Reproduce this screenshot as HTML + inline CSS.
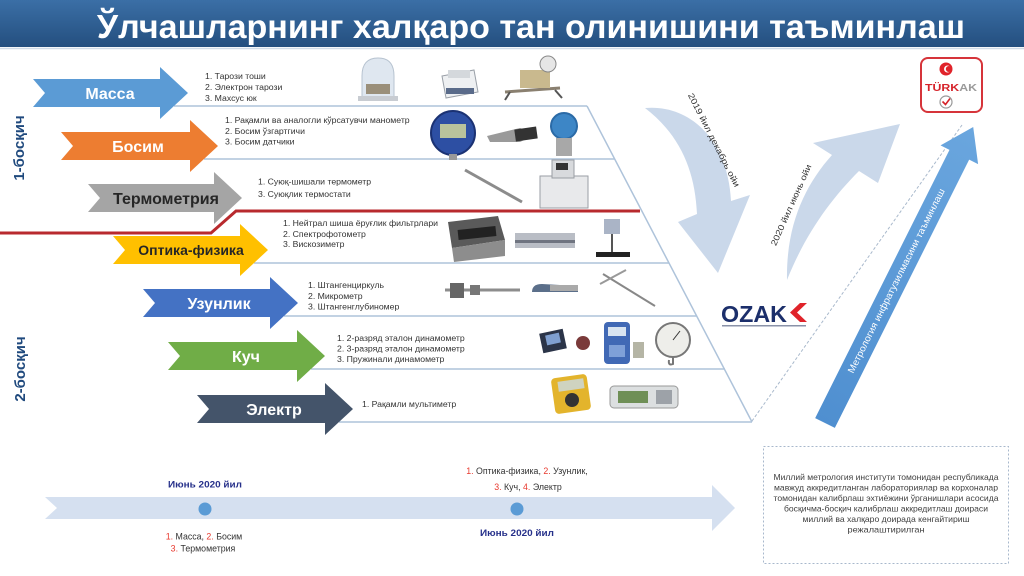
<!DOCTYPE html>
<html><head><meta charset="utf-8">
<style>
html,body{margin:0;padding:0;background:#fff;}
svg{display:block;}
text{font-family:"Liberation Sans","DejaVu Sans",sans-serif;}
</style></head>
<body>
<svg width="1024" height="576" viewBox="0 0 1024 576" xmlns="http://www.w3.org/2000/svg">
<defs>
<linearGradient id="tb" x1="0" y1="0" x2="0" y2="1">
<stop offset="0" stop-color="#3b6fa6"/><stop offset="1" stop-color="#244f7f"/>
</linearGradient>
<linearGradient id="ba" x1="0" y1="0" x2="1" y2="0">
<stop offset="0" stop-color="#4f8fd0"/><stop offset="1" stop-color="#6aa6de"/>
</linearGradient>
</defs>
<rect width="1024" height="576" fill="#fff"/>

<!-- Title -->
<rect x="0" y="0" width="1024" height="47" fill="url(#tb)"/>
<line x1="0" y1="48.5" x2="1024" y2="48.5" stroke="#cfdbe8" stroke-width="1.5"/>
<text x="97" y="38" font-size="33" font-weight="bold" fill="#fff" textLength="868" lengthAdjust="spacingAndGlyphs">Ўлчашларнинг халқаро тан олинишини таъминлаш</text>

<!-- stage labels -->
<text transform="translate(24,148) rotate(-90)" text-anchor="middle" font-size="15" font-weight="bold" fill="#1f497d">1-босқич</text>
<text transform="translate(25,369) rotate(-90)" text-anchor="middle" font-size="15" font-weight="bold" fill="#1f497d">2-босқич</text>

<!-- row lines -->
<g stroke="#aec3da" stroke-width="1.5" fill="none">
<line x1="174" y1="106" x2="587" y2="106"/>
<line x1="204" y1="159" x2="615" y2="159"/>
<line x1="254" y1="263" x2="669" y2="263"/>
<line x1="284" y1="316" x2="697" y2="316"/>
<line x1="311" y1="369" x2="725" y2="369"/>
<line x1="339" y1="422" x2="752" y2="422"/>
<line x1="587" y1="106" x2="752" y2="422"/>
</g>
<line x1="752" y1="421" x2="962" y2="125" stroke="#a9b9cc" stroke-width="1" stroke-dasharray="3 2"/>
<!-- red separator -->
<polyline points="0,233 211,233 236,211 640,211" fill="none" stroke="#b82a2e" stroke-width="3"/>

<!-- arrows -->
<polygon points="33,79 160,79 160,67 188,93 160,119 160,107 33,107 45,93" fill="#5b9bd5"/>
<polygon points="61,132 190,132 190,120 218,146 190,172 190,160 61,160 73,146" fill="#ed7d31"/>
<polygon points="88,184 214,184 214,172 242,198 214,224 214,212 88,212 100,198" fill="#a5a5a5"/>
<polygon points="113,236 240,236 240,224 268,250 240,276 240,264 113,264 125,250" fill="#ffc000"/>
<polygon points="143,289 270,289 270,277 298,303 270,329 270,317 143,317 155,303" fill="#4472c4"/>
<polygon points="168,342 297,342 297,330 325,356 297,382 297,370 168,370 180,356" fill="#70ad47"/>
<polygon points="197,395 325,395 325,383 353,409 325,435 325,423 197,423 209,409" fill="#44546a"/>

<g font-weight="bold" text-anchor="middle">
<text x="110" y="99" font-size="16" fill="#fff">Масса</text>
<text x="138" y="152" font-size="16" fill="#fff">Босим</text>
<text x="166" y="204" font-size="16" fill="#262626">Термометрия</text>
<text x="191" y="255" font-size="14" fill="#262626">Оптика-физика</text>
<text x="219" y="309" font-size="16" fill="#fff">Узунлик</text>
<text x="246" y="362" font-size="16" fill="#fff">Куч</text>
<text x="274" y="415" font-size="16" fill="#fff">Электр</text>
</g>

<!-- lists -->
<g font-size="8.7" fill="#333">
<text x="205" y="79">1. Тарози тоши</text>
<text x="205" y="90">2. Электрон тарози</text>
<text x="205" y="101">3. Махсус юк</text>
<text x="225" y="123">1. Рақамли ва аналогли кўрсатувчи манометр</text>
<text x="225" y="134">2. Босим ўзгартгичи</text>
<text x="225" y="144.5">3. Босим датчики</text>
<text x="258" y="184.5">1. Суюқ-шишали термометр</text>
<text x="258" y="197">3. Суюқлик термостати</text>
<text x="283" y="226">1. Нейтрал шиша ёруғлик фильтрлари</text>
<text x="283" y="237">2. Спектрофотометр</text>
<text x="283" y="247">3. Вискозиметр</text>
<text x="308" y="288">1. Штангенциркуль</text>
<text x="308" y="299">2. Микрометр</text>
<text x="308" y="309.5">3. Штангенглубиномер</text>
<text x="337" y="341">1. 2-разряд эталон динамометр</text>
<text x="337" y="351.5">2. 3-разряд эталон динамометр</text>
<text x="337" y="362">3. Пружинали динамометр</text>
<text x="362" y="407">1. Рақамли мультиметр</text>
</g>

<!-- equipment row1 -->
<path d="M362,98 L362,76 Q362,58 378,58 Q394,58 394,76 L394,98 Z" fill="#dfe7f0" stroke="#b7c3d0"/>
<rect x="366" y="84" width="24" height="10" fill="#9a8f7a"/>
<rect x="358" y="96" width="40" height="5" fill="#c8ccd2"/>
<polygon points="442,76 474,70 478,92 446,98" fill="#eef0f2" stroke="#9aa0a8"/>
<rect x="446" y="88" width="28" height="6" fill="#5a6b8a"/>
<rect x="448" y="70" width="22" height="8" fill="#d4d8dc"/>
<line x1="505" y1="92" x2="560" y2="88" stroke="#8a8070" stroke-width="3"/>
<rect x="520" y="70" width="30" height="18" fill="#c9b98e"/>
<circle cx="548" cy="64" r="8" fill="#e6e6e6" stroke="#888"/>
<line x1="510" y1="92" x2="505" y2="100" stroke="#555" stroke-width="2"/>
<line x1="555" y1="90" x2="562" y2="98" stroke="#555" stroke-width="2"/>
<!-- row2 -->
<circle cx="453" cy="133" r="22" fill="#2d4fa3" stroke="#1b3273" stroke-width="2"/>
<rect x="440" y="124" width="26" height="14" fill="#b9c39c"/>
<rect x="449" y="154" width="8" height="6" fill="#999"/>
<polygon points="487,136 520,128 537,134 520,142 490,142" fill="#9a9a9a"/>
<rect x="515" y="128" width="22" height="12" fill="#333" transform="rotate(-8 526 134)"/>
<circle cx="564" cy="126" r="13" fill="#3d86c6" stroke="#2b6aa6" stroke-width="2"/>
<rect x="556" y="138" width="16" height="18" fill="#a8a8a8"/>
<!-- row3 -->
<line x1="465" y1="170" x2="522" y2="202" stroke="#8c8c8c" stroke-width="3"/>
<rect x="540" y="176" width="48" height="32" fill="#e8e9eb" stroke="#9a9ea4"/>
<rect x="552" y="160" width="22" height="18" fill="#d8dadd" stroke="#9a9ea4"/>
<rect x="556" y="163" width="12" height="7" fill="#333"/>
<!-- row4 -->
<polygon points="448,222 498,216 505,240 452,248" fill="#5a5a5a"/>
<polygon points="452,248 505,240 505,256 454,262" fill="#8d8d8d"/>
<rect x="458" y="228" width="38" height="10" fill="#222" transform="rotate(-6 477 233)"/>
<rect x="515" y="233" width="60" height="15" fill="#b9bdc5"/>
<rect x="515" y="240" width="60" height="3" fill="#6f7480"/>
<rect x="604" y="219" width="16" height="15" fill="#aab4c6"/>
<line x1="612" y1="234" x2="612" y2="253" stroke="#555" stroke-width="2"/>
<rect x="596" y="252" width="34" height="5" fill="#222"/>
<!-- row5 -->
<line x1="445" y1="290" x2="520" y2="290" stroke="#8d8d8d" stroke-width="3"/>
<rect x="450" y="283" width="14" height="15" fill="#666"/>
<rect x="470" y="285" width="10" height="10" fill="#777"/>
<path d="M532,292 Q532,284 542,284 L578,286 L578,292 Z" fill="#5b6f8a"/>
<rect x="550" y="285" width="28" height="6" fill="#aaa"/>
<line x1="603" y1="274" x2="655" y2="306" stroke="#888" stroke-width="2"/>
<line x1="600" y1="284" x2="626" y2="270" stroke="#999" stroke-width="2"/>
<!-- row6 -->
<rect x="541" y="331" width="24" height="20" fill="#2b3448" transform="rotate(-12 553 341)"/>
<rect x="546" y="334" width="14" height="10" fill="#7f9fd0" transform="rotate(-12 553 339)"/>
<circle cx="583" cy="343" r="7" fill="#7a3a3a"/>
<rect x="604" y="322" width="26" height="42" rx="4" fill="#4169b5"/>
<rect x="608" y="327" width="18" height="9" fill="#d9e4f0"/>
<rect x="609" y="345" width="16" height="12" fill="#7fa0d8"/>
<rect x="633" y="342" width="11" height="16" fill="#b5b5a5"/>
<circle cx="673" cy="340" r="17" fill="#eeeeea" stroke="#777" stroke-width="2"/>
<line x1="673" y1="340" x2="680" y2="331" stroke="#333"/>
<path d="M673,357 L673,364 Q668,366 669,360" fill="none" stroke="#777" stroke-width="2"/>
<!-- row7 -->
<rect x="553" y="376" width="36" height="36" rx="4" fill="#e3b42c" transform="rotate(-8 571 394)"/>
<rect x="558" y="380" width="26" height="10" fill="#cfd3c0" transform="rotate(-8 571 385)"/>
<circle cx="572" cy="400" r="7" fill="#333"/>
<rect x="610" y="386" width="68" height="22" rx="4" fill="#dcdfe0" stroke="#999"/>
<rect x="618" y="391" width="30" height="12" fill="#6f8f56"/>
<rect x="656" y="390" width="16" height="14" fill="#9da2a8"/>

<!-- curved light arrows -->
<path d="M645,108 C690,104 728,140 731,201 L750,195 L718,273 L678,222 L697,214 C695,170 680,135 645,108 Z" fill="#cad8ea"/>
<path d="M787,280 C786,225 805,185 832,155 L813,143 L900,124 L878,183 L859,171 C830,200 805,235 787,280 Z" fill="#cad8ea"/>
<text transform="translate(714,140) rotate(63)" text-anchor="middle" y="3" font-size="8.5" fill="#333" textLength="104" lengthAdjust="spacingAndGlyphs">2019 йил декабрь ойи</text>
<text transform="translate(791,205) rotate(-66)" text-anchor="middle" y="3" font-size="8.5" fill="#333" textLength="88" lengthAdjust="spacingAndGlyphs">2020 йил июнь ойи</text>

<!-- big blue arrow -->
<g transform="translate(825,423) rotate(-63.4)">
<polygon points="0,-11 300,-11 300,-21 331,0 300,21 300,11 0,11" fill="url(#ba)"/>
<text x="159" y="3.2" text-anchor="middle" font-size="9.5" fill="#fff" textLength="205" lengthAdjust="spacingAndGlyphs">Метрология инфратузилмасини таъминлаш</text>
</g>

<!-- TURKAK logo -->
<rect x="921" y="58" width="61" height="54" rx="7" fill="#fff" stroke="#d6343a" stroke-width="2"/>
<circle cx="946" cy="69" r="6.5" fill="#e0232a"/>
<circle cx="947.5" cy="69" r="3.5" fill="#fff"/>
<circle cx="948.8" cy="69" r="3" fill="#e0232a"/>
<text x="925" y="91" font-size="10" font-weight="bold" textLength="52" lengthAdjust="spacingAndGlyphs"><tspan fill="#d6232a">TÜRK</tspan><tspan fill="#9a9a9a">AK</tspan></text>
<circle cx="946" cy="102" r="6" fill="none" stroke="#999" stroke-width="1.2"/>
<polyline points="942.5,101.5 945.5,104.5 950,98.5" fill="none" stroke="#d6232a" stroke-width="1.6"/>

<!-- OZAK logo -->
<text x="721" y="322" font-size="23" font-weight="bold" fill="#1c2f6b" textLength="66" lengthAdjust="spacingAndGlyphs">OZAK</text>
<polygon points="807,303 797,312.5 807,322 800,322 790,312.5 800,303" fill="#e0232a"/>
<rect x="722" y="325" width="84" height="1.5" fill="#8a92a8"/>

<!-- timeline -->
<polygon points="45,497 712,497 712,485 735,508 712,531 712,519 45,519 57,508" fill="#d5e0f0"/>
<circle cx="205" cy="509" r="6.5" fill="#5b9bd5"/>
<circle cx="517" cy="509" r="6.5" fill="#5b9bd5"/>
<g text-anchor="middle">
<text x="205" y="487.5" font-size="9.5" font-weight="bold" fill="#26308a" textLength="74" lengthAdjust="spacingAndGlyphs">Июнь 2020 йил</text>
<text x="517" y="536" font-size="9.5" font-weight="bold" fill="#26308a" textLength="74" lengthAdjust="spacingAndGlyphs">Июнь 2020 йил</text>
<text x="204" y="539.5" font-size="8.8" fill="#333"><tspan fill="#e8392e">1.</tspan> Масса, <tspan fill="#e8392e">2.</tspan> Босим</text>
<text x="203" y="551.5" font-size="8.8" fill="#333"><tspan fill="#e8392e">3.</tspan> Термометрия</text>
<text x="527" y="474" font-size="8.8" fill="#333"><tspan fill="#e8392e">1.</tspan> Оптика-физика, <tspan fill="#e8392e">2.</tspan> Узунлик,</text>
<text x="528" y="490" font-size="8.8" fill="#333"><tspan fill="#e8392e">3.</tspan> Куч, <tspan fill="#e8392e">4.</tspan> Электр</text>
</g>

<!-- note box -->
<rect x="763.5" y="446.5" width="245" height="117" fill="#fff" stroke="#a8b8cc" stroke-dasharray="2 2"/>
<g font-size="8.3" fill="#404040" text-anchor="middle">
<text x="886" y="480" textLength="225" lengthAdjust="spacingAndGlyphs">Миллий метрология институти томонидан республикада</text>
<text x="886" y="490.5" textLength="224" lengthAdjust="spacingAndGlyphs">мавжуд аккредитланган лабораториялар ва корхоналар</text>
<text x="886" y="501" textLength="225" lengthAdjust="spacingAndGlyphs">томонидан калибрлаш эхтиёжини ўрганишлари асосида</text>
<text x="886" y="511.5" textLength="204" lengthAdjust="spacingAndGlyphs">босқичма-босқич калибрлаш аккредитлаш доираси</text>
<text x="886" y="522" textLength="167" lengthAdjust="spacingAndGlyphs">миллий ва халқаро доирада кенгайтириш</text>
<text x="886" y="532.5" textLength="77" lengthAdjust="spacingAndGlyphs">режалаштирилган</text>
</g>
</svg>
</body></html>
